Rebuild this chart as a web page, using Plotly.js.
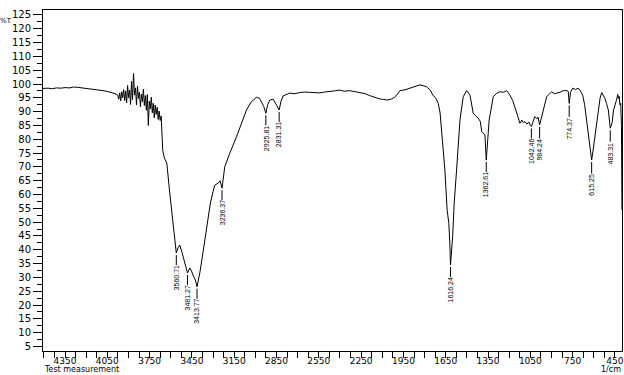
<!DOCTYPE html>
<html>
<head>
<meta charset="utf-8">
<script src="https://cdn.plot.ly/plotly-3.0.1.min.js"></script>
<style>
html,body{margin:0;padding:0;background:#fff;}
#chart{width:624px;height:375px;}
</style>
</head>
<body>
<div id="chart"></div>
<script>
// Wavenumber (1/cm)
var wavenumber = [
4506,4470,4440,4410,4380,4350,4320,4290,4260,4230,4200,4170,4140,4110,4080,4050,4020,3995,3976,
3969,3962,3955,3948,3941,3934,3927,3920,3913,3906,3899,3892,3885,3878,3871,3864,3857,3850,3843,3836,
3829,3822,3815,3808,3801,3794,3787,3780,3773,3766,3759,3752,3745,3738,3731,3724,3717,3710,3703,3696,
3689,3682,3675,3668,
3657,3645,3628,3607,3590,3572,3560.71,3548,3536,3520,3500,3481.27,3465,3453,3440,3425,3413.77,3394,
3372,3345,3319,3300,3288,3264,3250,3236.37,3217,3181,3160,3134,3100,3063,3030,2992,2970,2956,2940,
2925.81,2912,2898,2874,2850,2831.31,2818,2803,2756,2720,2685,2650,2615,2580,2544,2510,2473,2440,2402,
2370,2331,2300,2260,2220,2189,2150,2118,2090,2061,2035,2012,1990,1976,1940,1904,1870,1833,1810,1786,
1760,1741,1720,1703,1690,1679,1667,1656,1640,1628,1621,1616.24,1601,1590,1573,1560,1549,1526,1502,
1478,1465,1455,1440,1419,1405,1395,1372,1368,1362.61,1352,1342,1313,1290,1266,1240,1218,1195,1175,
1159,1140,1124,1110,1100,1088,1075,1060,1050,1042.46,1030,1018,1003,995,984.24,970,950,934,899,880,
863,840,817,790,781,774.37,765,750,730,710,695,679,665,651,635,622,615.25,605,592,580,568,555,544,
532,521,510,497,483.31,470,460,450,440,430,426,420,415,409,404,401,400
];
// Transmittance (%T)
var transmittance = [
98.4,98.5,98.3,98.6,98.5,98.7,98.6,98.9,98.8,98.6,98.5,98.3,98.2,98.0,97.6,97.3,96.9,96.5,96.0,
94.5,96.8,93.9,97.2,95.1,98.0,94.0,97.5,93.2,99.5,95.0,97.8,92.6,101.0,94.4,103.8,96.0,98.6,92.5,99.2,
94.8,97.0,91.8,96.4,93.6,98.1,92.2,95.8,90.5,96.2,85.0,93.8,91.0,95.2,89.6,93.0,87.8,92.4,89.0,91.6,
87.2,90.2,86.8,88.4,
76.0,73.2,71.4,60.5,52.0,43.5,38.8,40.8,41.7,39.0,35.2,31.6,33.4,32.3,30.5,29.0,26.6,31.6,
38.8,47.2,56.9,61.0,63.4,64.1,65.0,62.3,70.1,75.0,77.5,80.9,85.5,90.6,93.5,95.2,94.8,93.6,91.8,
89.4,92.6,94.2,94.5,92.4,90.6,93.8,95.7,96.7,96.5,96.9,97.1,97.0,96.8,96.8,97.1,97.2,97.5,97.8,
97.4,97.6,97.3,97.0,96.5,95.8,95.0,94.6,94.4,94.2,94.6,95.2,96.5,97.6,97.9,98.5,99.2,99.7,99.4,99.0,
97.8,96.0,94.8,93.0,89.5,83.4,76.0,68.9,54.4,49.6,42.4,34.5,44.7,56.9,68.9,79.0,87.0,95.4,97.6,
96.0,92.5,89.4,88.6,87.6,86.5,82.8,81.6,78.0,72.5,80.0,87.0,95.4,96.6,97.2,97.0,97.6,96.0,94.0,
91.8,88.5,85.8,87.0,86.0,86.4,85.5,86.2,85.0,84.6,86.5,88.2,87.4,88.0,85.2,88.2,92.0,95.4,97.2,96.5,
96.7,97.0,97.6,97.6,97.3,93.0,97.0,98.5,98.0,98.5,97.5,96.0,92.5,87.0,80.5,74.9,72.5,76.0,80.9,86.5,91.8,95.0,96.9,
96.0,94.8,93.0,90.6,84.0,86.0,90.6,92.0,94.0,96.2,94.8,95.5,92.5,93.0,85.0,60.0,54.4
];
// Labelled peaks
var peakWn = [3560.71,3481.27,3413.77,3236.37,2925.81,2831.31,1616.24,1362.61,1042.46,984.24,774.37,615.25,483.31];
var peakT  = [38.8,31.6,26.6,62.3,89.4,90.6,34.5,72.5,84.6,85.2,93.0,72.5,84.0];
var peakLabels = ["3560.71","3481.27","3413.77","3236.37","2925.81","2831.31","1616.24","1362.61","1042.46","984.24","774.37","615.25","483.31"];

var FONT = "DejaVu Sans, sans-serif";
var SMALL = "Liberation Sans, Arial, sans-serif";

var annotations = peakWn.map(function(w, i){
  return {
    x: w, y: peakT[i], xref: 'x', yref: 'y',
    text: peakLabels[i], textangle: -90,
    showarrow: true, arrowhead: 0, arrowwidth: 1, arrowcolor: '#000',
    ax: 0, ay: 25, standoff: 2, borderpad: 0,
    font: {family: SMALL, size: 7, color: '#000'}
  };
});
annotations.push({
  xref: 'paper', yref: 'paper', x: 0, y: -0.0704, xanchor: 'left', yanchor: 'bottom',
  text: 'Test measurement', showarrow: false, borderpad: 0,
  font: {family: FONT, size: 8, color: '#000'}
});
annotations.push({
  xref: 'paper', yref: 'paper', x: 1, y: -0.0704, xanchor: 'right', yanchor: 'bottom',
  text: '1/cm', showarrow: false, borderpad: 0,
  font: {family: FONT, size: 8, color: '#000'}
});
annotations.push({
  xref: 'paper', yref: 'paper', x: -0.064, y: 0.967, xanchor: 'center', yanchor: 'middle',
  text: '%T', showarrow: false, borderpad: 0,
  font: {family: FONT, size: 7, color: '#000'}
});

var trace = {
  x: wavenumber, y: transmittance, type: 'scatter', mode: 'lines',
  line: {color: '#000', width: 1}, hoverinfo: 'skip'
};

var layout = {
  width: 624, height: 375,
  margin: {l: 43, r: 2, t: 10, b: 24, pad: 0},
  paper_bgcolor: '#fff', plot_bgcolor: '#fff',
  showlegend: false,
  font: {family: FONT, size: 10, color: '#000'},
  xaxis: {
    range: [4506, 400], autorange: false,
    tickmode: 'linear', tick0: 450, dtick: 300,
    ticks: 'outside', ticklen: 6, tickwidth: 1, tickcolor: '#000',
    ticklabelstandoff: -5,
    minor: {tickmode: 'linear', tick0: 450, dtick: 75, ticks: 'outside', ticklen: 6, tickcolor: '#000', showgrid: false},
    showline: true, mirror: true, linecolor: '#000', linewidth: 1,
    showgrid: false, zeroline: false,
    tickfont: {family: FONT, size: 9, color: '#000'}
  },
  yaxis: {
    range: [3.35, 126.8], autorange: false,
    tickmode: 'linear', tick0: 5, dtick: 5,
    ticks: 'outside', ticklen: 9, tickwidth: 1, tickcolor: '#000',
    minor: {tickmode: 'linear', tick0: 2.5, dtick: 2.5, ticks: 'outside', ticklen: 5, tickcolor: '#000', showgrid: false},
    showline: true, mirror: true, linecolor: '#000', linewidth: 1,
    showgrid: false, zeroline: false,
    tickfont: {family: FONT, size: 10, color: '#000'}
  },
  annotations: annotations
};

Plotly.newPlot('chart', [trace], layout, {staticPlot: true, displayModeBar: false});
</script>
</body>
</html>
